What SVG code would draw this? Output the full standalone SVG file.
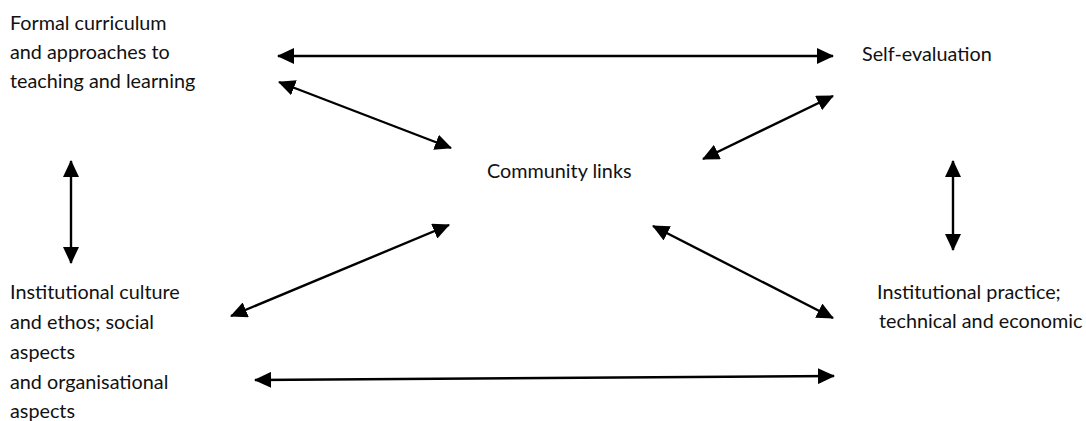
<svg xmlns="http://www.w3.org/2000/svg" width="1086" height="421" viewBox="0 0 1086 421">
<style>
text{font-family:Lato,"Open Sans","Liberation Sans",sans-serif;font-size:19.8px;fill:#111}
.c{stroke:#000;stroke-width:2.4;fill:none;marker-start:url(#a);marker-end:url(#a)}
</style>
<defs>
<marker id="a" viewBox="0 0 17 16" refX="16" refY="8" markerWidth="17" markerHeight="16" markerUnits="userSpaceOnUse" orient="auto-start-reverse">
<path d="M0,0 L17,8 L0,16 Z" fill="#000"/>
</marker>
</defs>
<rect width="1086" height="421" fill="#fff"/>
<g id="connectors">
<line class="c" x1="278" y1="56" x2="833" y2="56"/>
<line class="c" x1="279" y1="82" x2="451" y2="148"/>
<line class="c" x1="833" y1="96" x2="703" y2="159"/>
<line class="c" x1="71" y1="161" x2="71" y2="263"/>
<line class="c" x1="953" y1="161" x2="953" y2="250"/>
<line class="c" x1="449" y1="225" x2="231" y2="316"/>
<line class="c" x1="653" y1="226" x2="833" y2="318"/>
<line class="c" x1="255" y1="380" x2="834" y2="376"/>
</g>
<g id="formal">
<text x="10" y="30">Formal curriculum</text>
<text x="10" y="59">and approaches to</text>
<text x="10" y="88">teaching and learning</text>
</g>
<g id="self-evaluation">
<text x="862" y="61">Self-evaluation</text>
</g>
<g id="community">
<text x="487" y="178">Community links</text>
</g>
<g id="culture">
<text x="10" y="299">Institutional culture</text>
<text x="10" y="329">and ethos; social</text>
<text x="10" y="359">aspects</text>
<text x="10" y="389">and organisational</text>
<text x="10" y="418">aspects</text>
</g>
<g id="practice">
<text x="877" y="299">Institutional practice;</text>
<text x="879" y="328">technical and economic</text>
</g>
</svg>
